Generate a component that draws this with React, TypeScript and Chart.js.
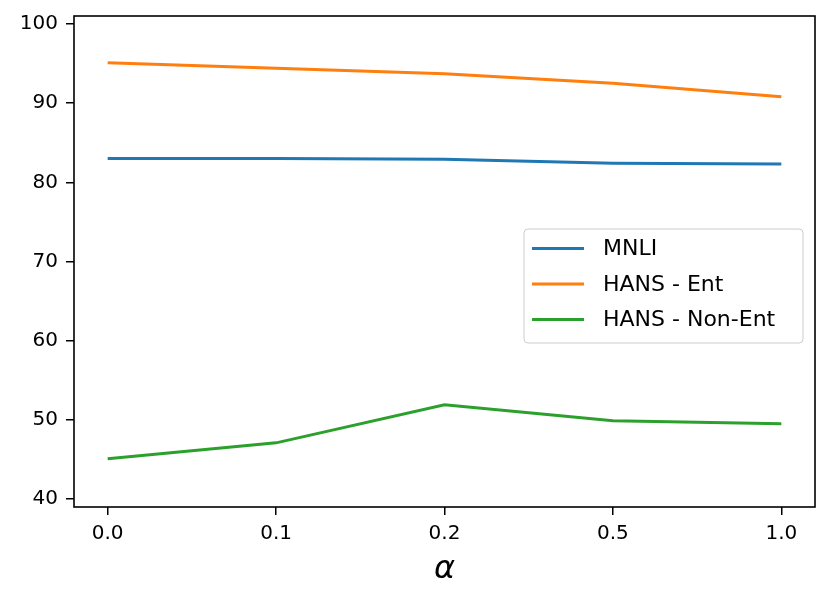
import React, { useEffect, useRef } from 'react';
import { Chart, registerables } from 'chart.js';

Chart.register(...registerables);

const categories = ['0.0', '0.1', '0.2', '0.5', '1.0'];
const mnli = [83.0, 83.0, 82.9, 82.4, 82.3];
const hansEnt = [95.1, 94.4, 93.7, 92.5, 90.8];
const hansNonEnt = [45.1, 47.1, 51.9, 49.9, 49.5];

const FONT = '"DejaVu Sans", sans-serif';

// frame round the plot area, like matplotlib spines
const framePlugin = {
  id: 'frame',
  afterDatasetsDraw(chart: any) {
    const { ctx, chartArea: a } = chart;
    ctx.save();
    ctx.strokeStyle = '#000';
    ctx.lineWidth = 1.6;
    ctx.strokeRect(a.left, a.top, a.right - a.left, a.bottom - a.top);
    ctx.restore();
  },
};

// legend box inside the axes, right side
const boxLegendPlugin = {
  id: 'boxLegend',
  afterDraw(chart: any) {
    const { ctx, chartArea: a } = chart;
    const w = 279;
    const h = 114;
    const x = a.right - 12 - w;
    const y = a.top + 213;
    ctx.save();
    ctx.beginPath();
    ctx.roundRect(x, y, w, h, 4);
    ctx.fillStyle = 'rgba(255,255,255,0.8)';
    ctx.fill();
    ctx.strokeStyle = '#cccccc';
    ctx.lineWidth = 1;
    ctx.stroke();
    ctx.font = `22px ${FONT}`;
    ctx.textBaseline = 'middle';
    chart.data.datasets.forEach((ds: any, i: number) => {
      const ry = y + 19.5 + i * 35.5;
      ctx.strokeStyle = ds.borderColor;
      ctx.lineWidth = 3;
      ctx.beginPath();
      ctx.moveTo(x + 8, ry);
      ctx.lineTo(x + 60, ry);
      ctx.stroke();
      ctx.fillStyle = '#000';
      ctx.fillText(ds.label, x + 79, ry + 1);
    });
    ctx.restore();
  },
};

const App: React.FC = () => {
  const canvasRef = useRef<HTMLCanvasElement>(null);
  const chartRef = useRef<Chart | null>(null);

  useEffect(() => {
    document.body.style.margin = '0';
    if (!canvasRef.current) return;
    const ctx = canvasRef.current.getContext('2d');
    if (!ctx) return;

    const toPoints = (vals: number[]) => vals.map((v, i) => ({ x: i, y: v }));

    chartRef.current = new Chart(ctx, {
      type: 'line',
      data: {
        datasets: [
          { label: 'MNLI', data: toPoints(mnli), borderColor: '#1f77b4' },
          { label: 'HANS - Ent', data: toPoints(hansEnt), borderColor: '#ff7f0e' },
          { label: 'HANS - Non-Ent', data: toPoints(hansNonEnt), borderColor: '#2ca02c' },
        ],
      },
      options: {
        responsive: false,
        animation: false,
        devicePixelRatio: 1,
        layout: { padding: { left: 0, right: 15, top: 16, bottom: 0 } },
        elements: {
          line: { borderWidth: 3, tension: 0, fill: false },
          point: { radius: 0, hoverRadius: 0 },
        },
        plugins: {
          legend: { display: false },
          tooltip: { enabled: false },
        },
        scales: {
          x: {
            type: 'linear',
            min: -0.2,
            max: 4.2,
            afterFit: (s: any) => {
              s.height = 94;
              s.paddingLeft = 0;
              s.paddingRight = 0;
            },
            grid: { drawOnChartArea: false, drawTicks: true, tickLength: 8, color: '#000', lineWidth: 1.5 },
            border: { display: false },
            ticks: {
              stepSize: 1,
              includeBounds: false,
              padding: 7,
              color: '#000',
              font: { family: FONT, size: 20 },
              callback: (v: any) => categories[v] ?? '',
            },
            title: {
              display: true,
              text: 'α',
              color: '#000',
              font: { family: FONT, size: 32, style: 'italic' },
              padding: { top: 0, bottom: 12 },
            },
          },
          y: {
            min: 39,
            max: 101,
            afterFit: (s: any) => {
              s.width = 74;
              s.paddingTop = 0;
              s.paddingBottom = 0;
            },
            grid: { drawOnChartArea: false, drawTicks: true, tickLength: 8, color: '#000', lineWidth: 1.5 },
            border: { display: false },
            ticks: {
              stepSize: 10,
              includeBounds: false,
              padding: 8,
              color: '#000',
              font: { family: FONT, size: 20 },
            },
          },
        },
      },
      plugins: [framePlugin, boxLegendPlugin],
    });

    return () => {
      chartRef.current?.destroy();
      chartRef.current = null;
    };
  }, []);

  return (
    <div style={{ width: 830, height: 601, background: '#fff' }}>
      <canvas ref={canvasRef} width={830} height={601} />
    </div>
  );
};

export default App;
